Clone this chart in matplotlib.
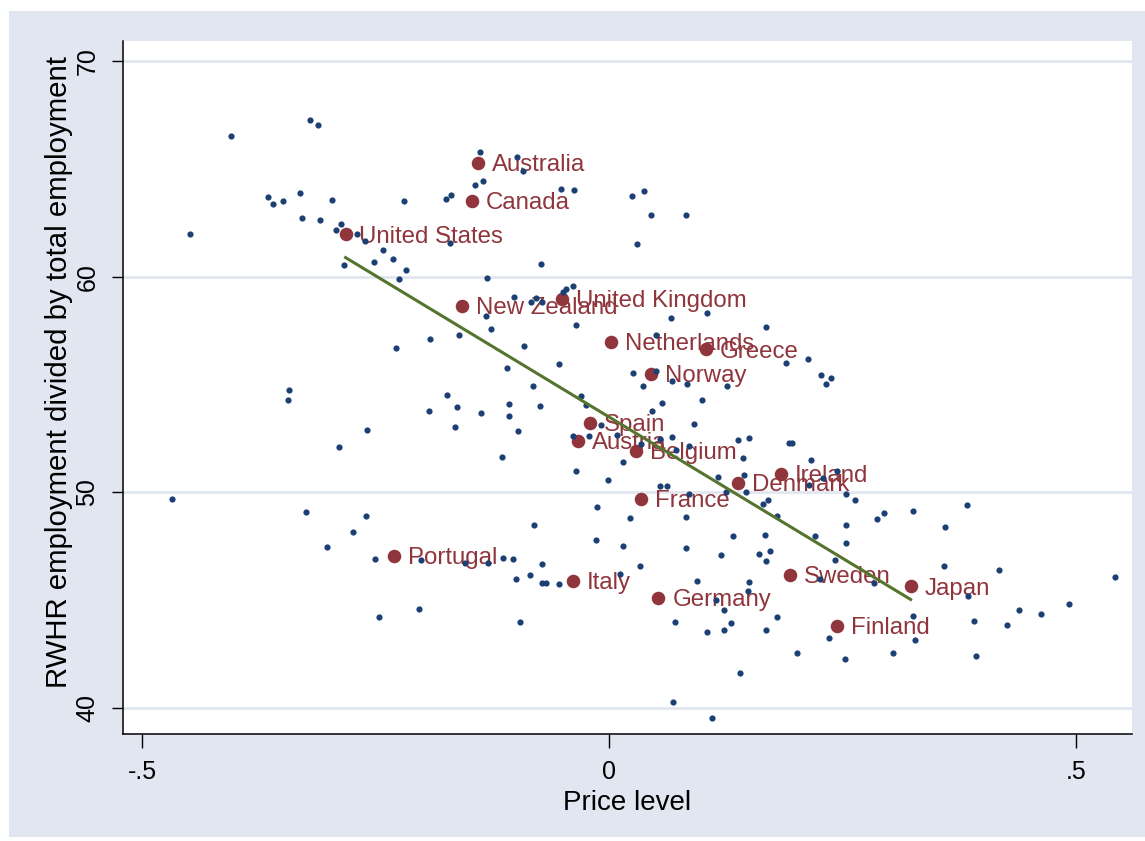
import numpy as np
import matplotlib.pyplot as plt
from matplotlib.patches import Rectangle

plt.rcParams['font.family'] = ['Liberation Sans', 'DejaVu Sans']

# Country averages (labelled markers)
countries = ['Australia', 'Canada', 'United States', 'New Zealand', 'United Kingdom',
             'Netherlands', 'Greece', 'Norway', 'Spain', 'Austria', 'Belgium', 'France',
             'Denmark', 'Ireland', 'Portugal', 'Italy', 'Germany', 'Sweden', 'Japan', 'Finland']
country_price = [-0.140, -0.147, -0.282, -0.157, -0.050, 0.002, 0.104, 0.045, -0.020, -0.033,
                 0.029, 0.034, 0.138, 0.184, -0.230, -0.039, 0.053, 0.194, 0.323, 0.244]
country_rwhr = [65.28, 63.52, 61.96, 58.65, 58.95, 56.98, 56.63, 55.49, 53.23, 52.38,
                51.92, 49.68, 50.45, 50.85, 47.05, 45.89, 45.09, 46.17, 45.64, 43.80]

# Individual observations (small markers)
obs_price = [-0.405, -0.320, -0.312, -0.449, -0.365, -0.360, -0.349, -0.331, -0.297, -0.219,
             -0.174, -0.169, -0.329, -0.309, -0.287, -0.292, -0.270, -0.242, -0.231, -0.252,
             -0.284, -0.217, -0.225, -0.170, -0.261,
             -0.138, -0.098, -0.092, -0.143, -0.135, -0.051, -0.037, 0.025, 0.038, 0.045,
             0.082, 0.030, -0.073, -0.131, -0.039, -0.046, -0.049, -0.102, -0.084, -0.078,
             -0.072,
             -0.228, -0.192, -0.161, -0.343, -0.344, -0.173, -0.163, -0.193, -0.165, -0.259,
             -0.289, -0.468, -0.324, -0.260,
             -0.132, -0.126, -0.035, 0.066, 0.105, 0.168, -0.091, -0.054, -0.109, 0.050,
             0.026, 0.050, 0.036, 0.068, 0.084, 0.126, -0.081, -0.107, -0.074, -0.137,
             -0.107, -0.097, -0.030, -0.025, 0.057, 0.100, 0.046, -0.009, 0.091, -0.039,
             -0.021, 0.009, 0.068, 0.055, 0.034, 0.086, 0.138, 0.150, 0.072, 0.143,
             -0.114, 0.015, -0.035, -0.001, 0.117, 0.145, 0.055, 0.062, 0.125, 0.147,
             0.086, 0.165, 0.170, -0.013, 0.022, 0.082,
             0.190, 0.213, 0.227, 0.238, 0.232, 0.193, 0.196, 0.216, 0.244, 0.229,
             0.214, 0.254, 0.263, 0.180, 0.295, 0.287, 0.326, 0.383,
             -0.274, -0.302, -0.250, -0.201, -0.203, -0.246,
             -0.080, -0.014, 0.015, 0.082, 0.133, 0.167, 0.120, 0.161, 0.168, 0.172,
             -0.113, -0.103, -0.154, -0.129, -0.072, 0.033, 0.012, -0.100, -0.085, -0.072,
             -0.067, -0.053, 0.094, 0.150, 0.149, 0.115, 0.123, 0.131, 0.123, 0.105,
             0.168, 0.071, -0.095, 0.140, 0.069, 0.110,
             0.254, 0.360, 0.221, 0.254, 0.242, 0.359, 0.418, 0.542, 0.226, 0.284,
             0.384, 0.493, 0.439, 0.463, 0.426, 0.391, 0.325, 0.180, 0.236, 0.328,
             0.201, 0.253, 0.304, 0.393]
obs_rwhr = [66.54, 67.28, 67.02, 61.99, 63.71, 63.38, 63.52, 63.88, 63.55, 63.52,
            63.62, 63.77, 62.73, 62.64, 62.44, 62.18, 61.99, 61.22, 60.83, 60.67,
            60.54, 60.31, 59.89, 61.55, 61.65,
            65.77, 65.53, 64.90, 64.24, 64.44, 64.07, 64.00, 63.75, 63.99, 62.85,
            62.87, 61.51, 60.57, 59.92, 59.58, 59.43, 59.28, 59.07, 58.81, 59.03,
            58.84,
            56.71, 57.10, 57.28, 54.76, 54.28, 54.53, 53.96, 53.79, 53.02, 52.89,
            52.10, 49.68, 49.09, 48.89,
            58.19, 57.56, 57.75, 58.10, 58.33, 57.65, 56.80, 55.94, 55.77, 57.31,
            55.55, 55.64, 54.92, 55.15, 55.04, 54.94, 54.93, 54.11, 54.02, 53.66,
            53.54, 52.86, 54.47, 54.05, 54.14, 54.27, 53.77, 53.14, 53.18, 52.60,
            52.63, 52.66, 52.58, 52.46, 52.24, 52.16, 52.44, 52.53, 51.95, 51.61,
            51.63, 51.39, 50.98, 50.56, 50.73, 50.79, 50.29, 50.29, 50.03, 50.03,
            49.91, 49.46, 49.64, 49.32, 48.80, 48.84,
            56.00, 56.18, 55.45, 55.29, 55.02, 52.30, 52.30, 51.49, 50.99, 50.65,
            50.34, 49.94, 49.66, 48.92, 49.06, 48.76, 49.12, 49.41,
            48.15, 47.47, 46.91, 46.86, 44.59, 44.22,
            48.50, 47.79, 47.50, 47.43, 47.99, 48.04, 47.09, 47.13, 46.83, 47.29,
            46.96, 46.91, 46.71, 46.71, 46.69, 46.60, 46.21, 45.98, 46.18, 45.80,
            45.80, 45.77, 45.89, 45.86, 45.44, 45.01, 44.56, 43.94, 43.63, 43.51,
            43.63, 44.00, 43.97, 41.61, 40.28, 39.52,
            48.47, 48.38, 47.99, 47.67, 46.89, 46.58, 46.40, 46.07, 45.97, 45.78,
            45.18, 44.81, 44.54, 44.36, 43.84, 44.03, 44.28, 44.21, 43.26, 43.15,
            42.56, 42.30, 42.56, 42.41]

# linear fit as shown in the chart
fit_intercept = 53.50
fit_slope = -26.2

x_ticks = [-0.5, 0, 0.5]
x_ticklabels = ['-.5', '0', '.5']
y_ticks = [40, 50, 60, 70]

bg = '#e1e6f0'
navy = '#1c3f74'
cranberry = '#8f353b'
green = '#55752f'

fig = plt.figure(figsize=(11.45, 8.41), dpi=100, facecolor='white')
frame = Rectangle((9 / 1145, 1 - 837 / 841), 1 - 9 / 1145, (837 - 11) / 841,
                  transform=fig.transFigure, facecolor=bg, edgecolor='none', zorder=-10)
fig.add_artist(frame)
ax = fig.add_axes([123 / 1145, 1 - 734 / 841, (1132 - 123) / 1145, (734 - 41) / 841])
ax.set_facecolor('white')

# labelled country means
ax.scatter(country_price, country_rwhr, s=95, color=cranberry, linewidths=0, zorder=2)
for name, xv, yv in zip(countries, country_price, country_rwhr):
    ax.annotate(name, (xv, yv), xytext=(10, -1.5), textcoords='offset points',
                va='center', ha='left', fontsize=17.3, color=cranberry, zorder=2)

# all observations
ax.scatter(obs_price, obs_rwhr, s=20, color=navy, linewidths=0, zorder=3)

# fitted line over the range of the country means
xf = np.array([min(country_price), max(country_price)])
ax.plot(xf, fit_intercept + fit_slope * xf, color=green, lw=2.2, zorder=4)

ax.set_xlim(-0.5203, 0.560)
ax.set_ylim(38.80, 70.93)
ax.set_xticks(x_ticks)
ax.set_xticklabels(x_ticklabels)
ax.set_yticks(y_ticks)
ax.set_yticklabels([str(v) for v in y_ticks], rotation=90, va='center')
ax.grid(axis='y', color=bg, lw=2)
ax.set_axisbelow(True)

for s in ['top', 'right']:
    ax.spines[s].set_visible(False)
for s in ['left', 'bottom']:
    ax.spines[s].set_linewidth(1.1)
ax.tick_params(axis='x', length=10, width=1, pad=9, labelsize=18)
ax.tick_params(axis='y', length=8, width=1, pad=9, labelsize=18)

ax.set_xlabel('Price level', fontsize=20, labelpad=4)
ax.set_ylabel('RWHR employment divided by total employment', fontsize=21.2)
ax.yaxis.set_label_coords(-0.050, 0.523)

fig.savefig('out.png', dpi=100, facecolor=fig.get_facecolor())
